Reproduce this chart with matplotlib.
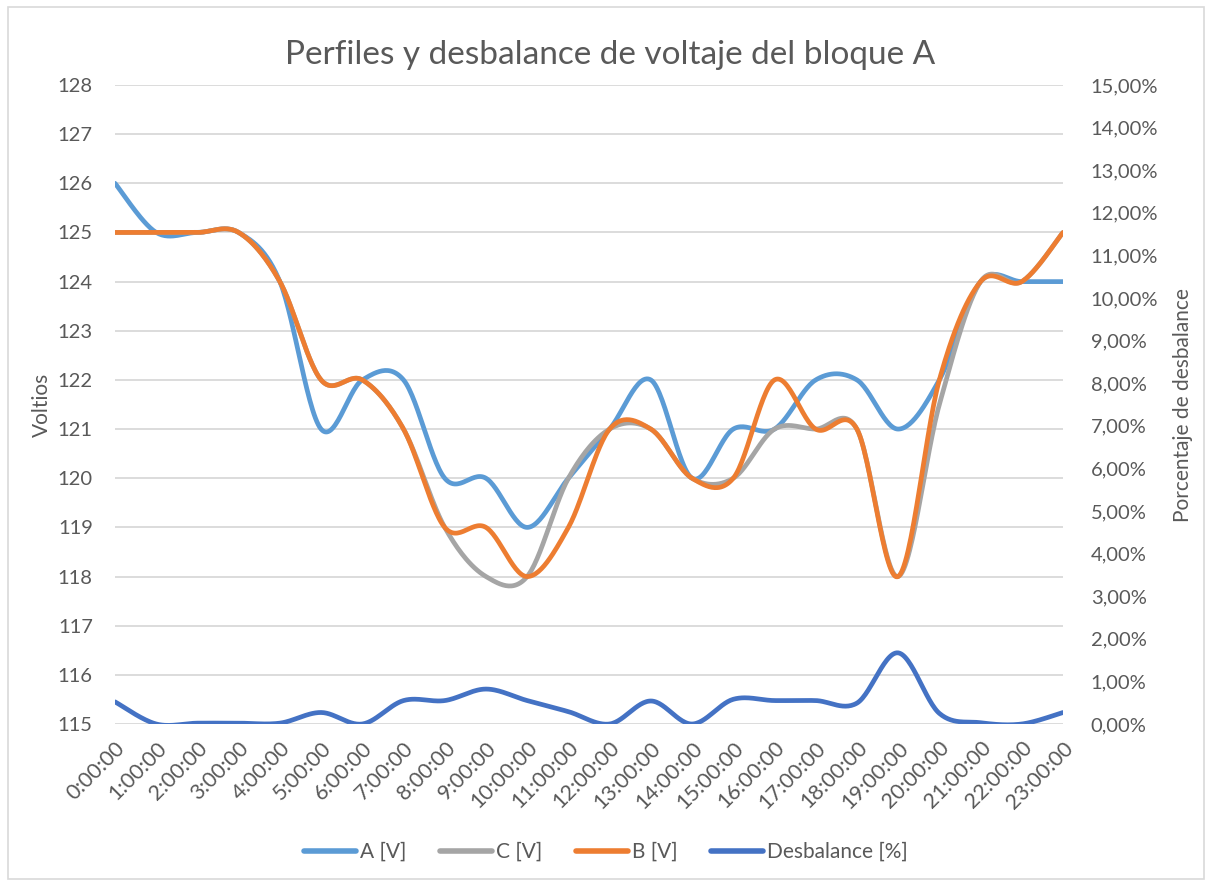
import numpy as np
import matplotlib
matplotlib.use("Agg")
import matplotlib.pyplot as plt
from matplotlib.lines import Line2D
from matplotlib.patches import Rectangle

plt.rcParams['font.family'] = ['Lato', 'DejaVu Sans']

horas = ["%d:00:00" % h for h in range(24)]

volt_a = [126, 125, 125, 125, 124, 121, 122, 122, 120, 120, 119, 120,
          121, 122, 120, 121, 121, 122, 122, 121, 122, 124, 124, 124]
volt_c = [125, 125, 125, 125, 124, 122, 122, 121, 119, 118, 118, 120,
          121, 121, 120, 120, 121, 121, 121, 118, 121.5, 124, 124, 125]
volt_b = [125, 125, 125, 125, 124, 122, 122, 121, 119, 119, 118, 119,
          121, 121, 120, 120, 122, 121, 121, 118, 122, 124, 124, 125]
desbalance = [0.52, 0.0, 0.02, 0.02, 0.02, 0.27, 0.0, 0.55, 0.55, 0.82, 0.55, 0.29,
              0.0, 0.54, 0.0, 0.58, 0.55, 0.55, 0.49, 1.67, 0.25, 0.03, 0.0, 0.27]

TXT = '#595959'
GRID = '#D9D9D9'


def smooth(y, n=30):
    # excel-like smoothed line (catmull-rom bezier between the points)
    y = np.asarray(y, dtype=float)
    x = np.arange(len(y), dtype=float)
    xs, ys = [], []
    for i in range(len(y) - 1):
        i0 = max(i - 1, 0)
        i3 = min(i + 2, len(y) - 1)
        p0 = np.array([x[i], y[i]])
        p3 = np.array([x[i + 1], y[i + 1]])
        p1 = p0 + (np.array([x[i + 1], y[i + 1]]) - np.array([x[i0], y[i0]])) / 6.0
        p2 = p3 - (np.array([x[i3], y[i3]]) - np.array([x[i], y[i]])) / 6.0
        t = np.linspace(0, 1, n)[:, None]
        pts = (1 - t)**3 * p0 + 3 * (1 - t)**2 * t * p1 + 3 * (1 - t) * t**2 * p2 + t**3 * p3
        xs.extend(pts[:, 0])
        ys.extend(pts[:, 1])
    return np.array(xs), np.array(ys)


fig = plt.figure(figsize=(12.12, 8.85), dpi=100)
ax = fig.add_axes([115/1212, 1 - 724/885, (1063 - 115)/1212, (724 - 85)/885])
ax2 = ax.twinx()

series = [(volt_a, '#5B9BD5', 'A [V]'), (volt_c, '#A5A5A5', 'C [V]'), (volt_b, '#ED7D31', 'B [V]')]
for vals, col, lab in series:
    sx, sy = smooth(vals)
    ax.plot(sx, sy, color=col, lw=3.4, solid_capstyle='round', zorder=3)

dx, dy = smooth(desbalance)
ax2.plot(dx, dy, color='#4472C4', lw=3.4, solid_capstyle='round', zorder=3)

ax.set_xlim(0, 23)
ax.set_ylim(115, 128)
ax.set_yticks(range(115, 129))
ax2.set_ylim(0, 15)
ax2.set_yticks(range(0, 16))
ax2.set_yticklabels([("%.2f%%" % v).replace('.', ',') for v in range(0, 16)])

ax.set_xticks(range(24))
ax.set_xticklabels(horas, rotation=45, ha='right', va='top', rotation_mode='anchor')

for a in (ax, ax2):
    for s in a.spines.values():
        s.set_visible(False)
    a.tick_params(length=0, colors=TXT, labelsize=14.5)
ax.tick_params(axis='x', labelsize=15.5, pad=10)
ax.tick_params(axis='y', pad=16)
ax2.tick_params(axis='y', pad=20)
ax.grid(axis='y', color=GRID, lw=1.3)
ax.set_axisbelow(True)

ax.set_ylabel('Voltios', color=TXT, fontsize=15, labelpad=4)
fig.text(1183/1212, 1 - 405/885, 'Porcentaje de desbalance', rotation=90,
         ha='center', va='center', color=TXT, fontsize=15)

fig.text(0.503, 1 - 55/885, 'Perfiles y desbalance de voltaje del bloque A',
         ha='center', va='center', fontsize=24, color=TXT)

handles = [Line2D([0], [0], color=c, lw=4, solid_capstyle='round') for c in
           ['#5B9BD5', '#A5A5A5', '#ED7D31', '#4472C4']]
fig.legend(handles, ['A [V]', 'C [V]', 'B [V]', 'Desbalance [%]'], loc='center',
           bbox_to_anchor=(0.5, 1 - 852/885), ncol=4, frameon=False, fontsize=15,
           labelcolor=TXT, handlelength=2.5, handletextpad=0.2, columnspacing=1.6)

fig.patches.append(Rectangle((8/1212, 6/885), 1196/1212, 872/885, transform=fig.transFigure,
                             fill=False, edgecolor=GRID, lw=1.2))

fig.savefig('out.png', dpi=100)
